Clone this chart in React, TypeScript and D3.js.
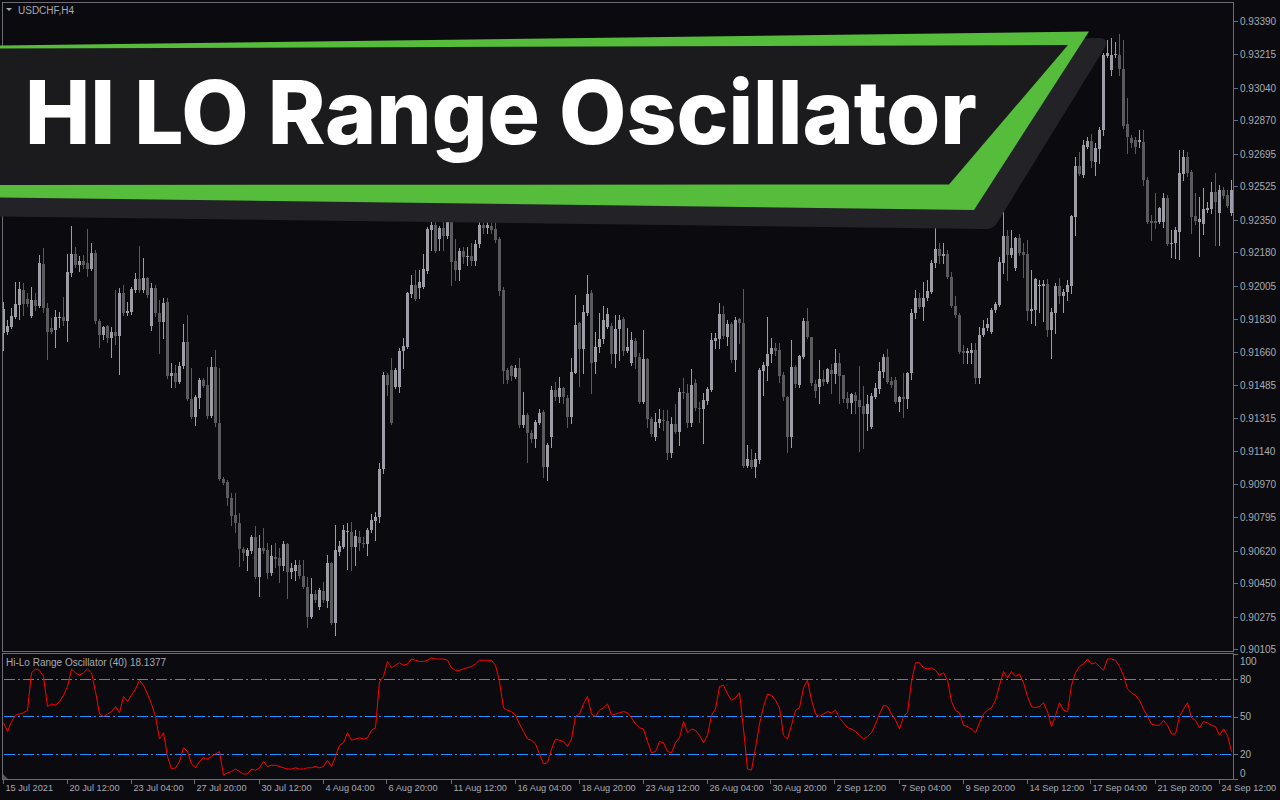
import React from "react";
import * as d3 from "d3";

// USDCHF H4 candles, prices in points (price × 100000)
const openPts = [
91758,91763,91789,91842,91905,91983,91936,91847,91931,91899,92119,91889,91784,91774,91837,91842,91821,92072,92171,92114,
92135,92124,92093,92177,91821,91748,91795,91732,91763,91742,91967,91863,91868,91983,92041,91983,92046,91795,91994,91863,
91816,91920,91533,91549,91502,91585,91711,91413,91319,91418,91512,91486,91324,91580,91287,90994,90979,90895,90806,90764,
90628,90592,90618,90691,90482,90633,90623,90503,90586,90581,90539,90654,90508,90513,90545,90487,90429,90272,90393,90325,
90409,90356,90555,90241,90612,90639,90717,90717,90639,90691,90660,90654,90728,90775,90796,91047,91538,91565,91476,91476,
91664,91685,91962,92009,91994,91999,92082,92297,92323,92250,92307,92265,92360,92135,92088,92187,92156,92161,92135,92224,
92323,92307,92318,92302,92250,91983,91565,91585,91528,91575,91277,91329,91235,91204,91287,91345,91057,91214,91460,91423,
91470,91418,91319,91549,91810,91674,91863,91967,91606,91685,91727,91789,91795,91648,91779,91831,91664,91601,91716,91633,
91397,91622,91308,91214,91287,91303,91298,91130,91282,91240,91449,91444,91287,91497,91366,91361,91403,91460,91716,91727,
91857,91737,91805,91617,91831,91810,91062,91094,91057,91094,91559,91585,91648,91680,91669,91538,91423,91214,91580,91486,
91633,91821,91737,91491,91476,91517,91502,91565,91544,91601,91538,91418,91392,91434,91408,91376,91334,91266,91423,91465,
91554,91633,91507,91512,91397,91423,91413,91549,91863,91941,91894,91941,91973,92124,92198,92161,92171,92051,91899,91852,
91664,91653,91653,91669,91523,91748,91784,91763,91878,91905,92124,92265,92166,92098,92255,92182,92171,91873,91878,92004,
92004,92014,91774,91863,92004,91952,91973,92004,92365,92632,92585,92731,92762,92653,92721,92820,93207,93134,93212,93212,
93139,92851,92778,92768,92757,92757,92558,92344,92344,92339,92339,92464,92224,92229,92286,92590,92679,92600,92370,92339,
92328,92402,92407,92496,92386,92506,92480,92386];
const highPts = [
91920,91826,91889,92025,92025,92020,91967,91999,91967,92166,92203,91915,91837,91878,91868,91946,92171,92318,92208,92161,
92166,92302,92229,92192,91831,91795,91800,91789,91983,91994,92009,91920,91999,92072,92213,92150,92051,92020,92009,91931,
91941,91941,91601,91591,91606,91805,91852,91575,91434,91523,91523,91580,91633,91669,91575,91005,90989,90921,90921,90816,
90639,90633,90701,90748,90701,90738,90660,90649,90660,90633,90670,90660,90555,90571,90571,90571,90482,90476,90414,90424,
90456,90597,90560,90754,90670,90754,90764,90769,90728,90722,90691,90738,90811,90822,91078,91554,91549,91627,91575,91680,
91732,91973,92061,92088,92088,92171,92313,92375,92339,92318,92339,92412,92386,92250,92203,92208,92208,92229,92245,92370,
92391,92339,92386,92386,92260,91999,91575,91591,91591,91627,91449,91340,91251,91303,91361,91355,91183,91481,91502,91528,
91476,91434,91627,91957,91816,91905,92061,91983,91763,91863,91899,91889,91810,91852,91852,91842,91784,91763,91732,91653,
91774,91627,91319,91340,91361,91355,91355,91319,91387,91470,91523,91491,91570,91517,91397,91444,91476,91758,91758,91915,
91899,91826,91816,91842,91837,91988,91172,91151,91130,91575,91606,91842,91732,91706,91706,91554,91429,91721,91591,91643,
91837,91889,91737,91512,91617,91565,91575,91596,91674,91653,91538,91449,91444,91449,91585,91481,91434,91444,91497,91606,
91648,91674,91528,91528,91429,91549,91554,91884,91983,91967,92025,92035,92140,92334,92229,92229,92192,92077,91952,91863,
91695,91680,91706,91706,91789,91826,91837,91889,91920,92156,92402,92297,92297,92260,92276,92229,92245,92088,92046,92035,
92035,92041,91889,92020,92046,91988,92035,92375,92679,92705,92768,92783,92799,92752,92836,93223,93291,93301,93280,93322,
93291,92987,92794,92783,92820,92820,92574,92375,92490,92417,92490,92480,92297,92313,92715,92715,92705,92611,92490,92469,
92517,92443,92548,92595,92532,92522,92506,92558];
const lowPts = [
91669,91753,91784,91837,91831,91852,91899,91842,91878,91894,91868,91622,91758,91685,91789,91800,91716,92056,92103,92082,
92098,92056,92088,91810,91685,91727,91711,91633,91701,91544,91852,91852,91857,91973,91973,91973,91946,91774,91847,91653,
91732,91523,91476,91476,91497,91575,91408,91313,91277,91366,91476,91313,91319,91272,90989,90968,90858,90754,90717,90539,
90571,90518,90607,90476,90382,90607,90476,90492,90534,90456,90518,90372,90476,90466,90476,90424,90220,90267,90351,90314,
90351,90325,90236,90178,90597,90633,90524,90518,90545,90623,90639,90597,90717,90675,90769,91026,91434,91282,91470,91449,
91575,91680,91946,91931,91941,91994,92072,92192,92182,92192,92192,92255,92009,92035,92035,92124,92114,92114,92114,92208,
92281,92281,92281,92234,91957,91497,91497,91512,91523,91266,91266,91083,91188,91162,91282,91005,90989,91162,91408,91397,
91392,91266,91287,91549,91481,91549,91852,91444,91549,91659,91706,91784,91601,91580,91617,91643,91659,91591,91575,91392,
91392,91266,91219,91198,91266,91251,91099,91109,91235,91172,91418,91266,91272,91355,91292,91183,91387,91455,91680,91680,
91732,91695,91606,91559,91706,91057,91057,91052,91005,91078,91434,91512,91606,91643,91502,91408,91136,91162,91476,91476,
91627,91732,91486,91423,91392,91486,91497,91444,91497,91392,91397,91366,91340,91340,91141,91157,91251,91261,91418,91444,
91528,91497,91476,91392,91350,91319,91366,91517,91837,91889,91826,91931,91967,92103,92124,92124,92046,91894,91842,91653,
91601,91601,91601,91497,91497,91742,91774,91758,91868,91899,92072,92035,92156,92088,92166,92051,91826,91810,91800,91868,
91821,91742,91627,91758,91915,91868,91931,91967,92271,92585,92574,92726,92626,92585,92647,92794,93202,93108,93202,93108,
92830,92700,92731,92700,92731,92532,92334,92245,92307,92334,92313,92218,92156,92150,92145,92558,92579,92281,92328,92161,
92276,92391,92386,92218,92218,92464,92417,92375];
const closePts = [
91884,91795,91847,91910,91988,91910,91910,91931,91899,92124,91889,91763,91763,91842,91842,91821,92077,92171,92114,92135,
92114,92093,92177,91821,91748,91789,91732,91763,91742,91967,91863,91873,91988,92041,91983,92046,91957,91994,91863,91816,
91915,91533,91549,91502,91585,91711,91413,91319,91423,91512,91481,91324,91580,91287,90994,90973,90895,90801,90764,90628,
90607,90623,90691,90482,90633,90618,90503,90592,90576,90539,90654,90508,90529,90545,90487,90429,90272,90393,90361,90414,
90361,90555,90241,90623,90644,90728,90722,90639,90696,90660,90654,90728,90780,90796,91047,91538,91486,91287,91565,91664,
91690,91967,92009,91936,92025,92093,92302,92323,92187,92307,92265,92360,92129,92088,92187,92156,92161,92135,92224,92323,
92307,92323,92297,92245,91978,91559,91512,91533,91575,91277,91329,91235,91204,91292,91340,91057,91172,91460,91423,91470,
91423,91319,91554,91800,91674,91868,91962,91601,91685,91727,91826,91857,91648,91779,91826,91664,91685,91721,91633,91397,
91622,91308,91230,91292,91308,91298,91130,91282,91240,91449,91444,91287,91486,91366,91361,91408,91465,91721,91732,91857,
91742,91805,91617,91826,91810,91062,91099,91057,91099,91565,91591,91648,91680,91664,91533,91423,91214,91580,91491,91638,
91821,91737,91497,91455,91517,91502,91570,91544,91601,91533,91413,91392,91439,91403,91371,91334,91387,91429,91470,91559,
91633,91502,91486,91397,91423,91413,91549,91863,91941,91894,91941,91978,92124,92198,92161,92171,92051,91899,91852,91659,
91653,91664,91669,91523,91748,91784,91805,91878,91910,92129,92265,92166,92203,92255,92177,92166,91873,91884,92041,92009,
92014,91774,91868,92004,91952,91973,92009,92370,92632,92590,92742,92762,92658,92726,92820,93212,93223,93212,93217,93139,
92841,92783,92752,92731,92768,92558,92339,92334,92334,92412,92464,92224,92229,92297,92595,92679,92595,92365,92344,92354,
92407,92412,92496,92443,92506,92475,92422,92506];

// Hi-Lo Range Oscillator (40), one value per candle
const oscValues = [
45,38,46,51,52,53,55,85,88,87,82,58,60,59,62,67,74,88,85,83,
85,88,85,70,52,50,52,54,58,53,66,62,67,72,79,75,68,60,50,32,
37,18,8,9,14,25,22,12,9,14,17,16,18,20,22,3,5,6,8,6,
4,4,8,7,9,14,10,11,11,10,9,8,8,9,8,8,9,9,10,9,
10,15,10,18,27,29,37,31,32,33,32,33,39,41,78,82,94,89,91,93,
91,92,96,95,94,94,95,97,96,96,96,95,89,87,87,88,89,90,92,95,
95,95,95,91,78,57,55,54,51,44,38,32,31,28,20,12,13,24,32,31,
30,26,32,50,52,60,66,52,50,55,57,60,51,52,53,54,53,49,44,41,
40,30,21,22,30,29,22,21,29,33,46,37,40,39,35,29,35,51,56,74,
75,68,63,65,69,40,8,7,25,44,58,68,67,63,57,35,32,43,55,57,
73,79,63,52,50,52,54,53,55,49,45,41,40,38,35,32,34,37,44,52,
59,58,52,47,40,50,53,78,93,93,89,88,89,87,83,85,79,62,55,53,
43,42,40,37,45,52,55,57,63,75,86,81,86,82,84,77,66,58,57,58,
61,54,42,51,61,55,54,75,85,90,92,96,92,93,90,87,96,96,95,90,
83,72,69,67,63,56,50,44,43,43,47,43,36,36,50,56,61,49,47,41,
46,45,43,42,35,40,35,22];

const yTickLabels = ["0.93390","0.93215","0.93040","0.92870","0.92695","0.92525","0.92350","0.92180","0.92005","0.91830",
  "0.91660","0.91485","0.91315","0.91140","0.90970","0.90795","0.90620","0.90450","0.90275","0.90105"];
const xTickLabels = ["15 Jul 2021","20 Jul 12:00","23 Jul 04:00","27 Jul 20:00","30 Jul 12:00","4 Aug 04:00","6 Aug 20:00",
  "11 Aug 12:00","16 Aug 04:00","18 Aug 20:00","23 Aug 12:00","26 Aug 04:00","30 Aug 20:00","2 Sep 12:00","7 Sep 04:00",
  "9 Sep 20:00","14 Sep 12:00","17 Sep 04:00","21 Sep 20:00","24 Sep 12:00"];
const xTickStep = 16;
const oscLevels = [80, 50, 20];
const oscAxisLabels = [100, 80, 50, 20, 0];
const symbolLabel = "USDCHF,H4";
const oscTitle = "Hi-Lo Range Oscillator (40) 18.1377";
const bannerTitle = "HI LO Range Oscillator";

const BG = "#0b0b0f";
const BULL = "#9d9da8";
const BEAR = "#5a5a5f";
const AXIS_TEXT = "#a6aab4";
const FRAME = "#6c6c74";
const LEVEL = "#1e90ff";
const FONT = "'Liberation Sans', Arial, sans-serif";

export default function App() {
  const n = openPts.length;
  const toP = (v: number) => v / 100000;
  const x = d3.scaleLinear().domain([0, n - 1]).range([3.5, 3.5 + 4 * (n - 1)]);
  const y = d3.scaleLinear().domain([0.90105, 0.9339]).range([649, 21]);
  const yo = d3.scaleLinear().domain([0, 100]).range([779, 654]);
  const oscLine = d3.line<number>().x((_, i) => x(i)).y((v) => yo(v));

  const candles = d3.range(n).map((i) => {
    const o = toP(openPts[i]);
    const c = toP(closePts[i]);
    const h = Math.max(toP(highPts[i]), o, c);
    const l = Math.min(toP(lowPts[i]), o, c);
    const bull = c >= o;
    const yTop = Math.round(y(Math.max(o, c)));
    const yBot = Math.round(y(Math.min(o, c)));
    return { i, bull, yH: Math.round(y(h)), yL: Math.round(y(l)), yTop, hBody: Math.max(1, yBot - yTop) };
  });

  const axisX = 1233.5;
  // dash-dot pattern: 11px dash, 3px gap, 2px dot, 3px gap
  const dashStarts = d3.range(4, axisX - 2, 19);

  return (
    <svg
      width={1280}
      height={800}
      style={{ position: "absolute", left: 0, top: 0, display: "block" }}
      xmlns="http://www.w3.org/2000/svg"
    >
      <rect x={0} y={0} width={1280} height={800} fill={BG} />

      {/* candles */}
      <g shapeRendering="crispEdges">
        {candles.map((d) => {
          const cx = x(d.i);
          const col = d.bull ? BULL : BEAR;
          return (
            <g key={d.i}>
              <line x1={cx} x2={cx} y1={d.yH} y2={d.yL + 1} stroke={col} strokeWidth={1} />
              <rect x={cx - 1.5} y={d.yTop} width={3} height={d.hBody} fill={col} />
            </g>
          );
        })}
      </g>

      {/* panel frames */}
      <g shapeRendering="crispEdges" fill="none" stroke={FRAME} strokeWidth={1}>
        <rect x={2.5} y={2.5} width={axisX - 2.5} height={649} />
        <rect x={2.5} y={653.5} width={axisX - 2.5} height={126} />
      </g>

      {/* price axis */}
      <g fontFamily={FONT} fontSize={10} fill={AXIS_TEXT}>
        {yTickLabels.map((t) => {
          const yy = Math.round(y(+t)) + 0.5;
          return (
            <g key={t}>
              <line x1={axisX} x2={axisX + 4} y1={yy} y2={yy} stroke={FRAME} shapeRendering="crispEdges" />
              <text x={1240} y={yy + 3.5}>{t}</text>
            </g>
          );
        })}
      </g>

      {/* time axis */}
      <g fontFamily={FONT} fontSize={9.2} fill={AXIS_TEXT}>
        {xTickLabels.map((t, k) => {
          const xx = Math.round(x(k * xTickStep)) - 0.5;
          return (
            <g key={t}>
              <line x1={xx} x2={xx} y1={780} y2={784} stroke={FRAME} shapeRendering="crispEdges" />
              <text x={xx + 2} y={791}>{t}</text>
            </g>
          );
        })}
      </g>

      {/* oscillator */}
      <g>
        <g shapeRendering="crispEdges" fill={LEVEL}>
          {oscLevels.map((lv) => {
            const row = Math.floor(yo(lv));
            return (
              <g key={lv}>
                {dashStarts.map((sx) => (
                  <g key={sx}>
                    <rect x={sx} y={row} width={Math.min(11, axisX - 1 - sx)} height={1} />
                    {sx + 14 < axisX - 1 ? <rect x={sx + 14} y={row} width={2} height={1} /> : null}
                  </g>
                ))}
              </g>
            );
          })}
        </g>
        <path d={oscLine(oscValues) || ""} fill="none" stroke="#ff0000" strokeWidth={1} />
        <path d="M3,774 L8,779 L3,779 Z" fill="#555558" />
        <text x={6} y={666} fontFamily={FONT} fontSize={10} fill={AXIS_TEXT}>{oscTitle}</text>
        <g fontFamily={FONT} fontSize={10} fill={AXIS_TEXT}>
          {oscAxisLabels.map((lv) => {
            const yy = Math.min(773, Math.max(661, yo(lv)));
            return (
              <g key={lv}>
                <line x1={axisX} x2={axisX + 4} y1={Math.round(yo(lv)) + 0.5} y2={Math.round(yo(lv)) + 0.5} stroke={FRAME} shapeRendering="crispEdges" />
                <text x={1240} y={yy + 3.5}>{lv}</text>
              </g>
            );
          })}
        </g>
      </g>

      {/* symbol header */}
      <path d="M6,8 L12,8 L9,11 Z" fill={AXIS_TEXT} />
      <text x={18} y={14} fontFamily={FONT} fontSize={10} fill={AXIS_TEXT}>{symbolLabel}</text>

      {/* banner */}
      <g>
        <path
          d="M0,60 L1098,38 Q1111,38 1104,49 L997,223 Q993,229 986,229 L0,216.5 Z"
          fill="#232327"
        />
        <path d="M0,45.5 L1089,31.5 L974,210 L0,197.5 Z" fill="#56bc3b" />
        <path d="M0,48.5 L1068,45 L949,184.5 L0,185 Z" fill="#1b1b1d" />
        <text
          x={25}
          y={144}
          fontFamily="Inter, 'Liberation Sans', Arial, sans-serif"
          fontWeight={800}
          fontSize={88}
          fill="#ffffff"
          textLength={952}
          lengthAdjust="spacingAndGlyphs"
        >
          {bannerTitle}
        </text>
      </g>
    </svg>
  );
}
